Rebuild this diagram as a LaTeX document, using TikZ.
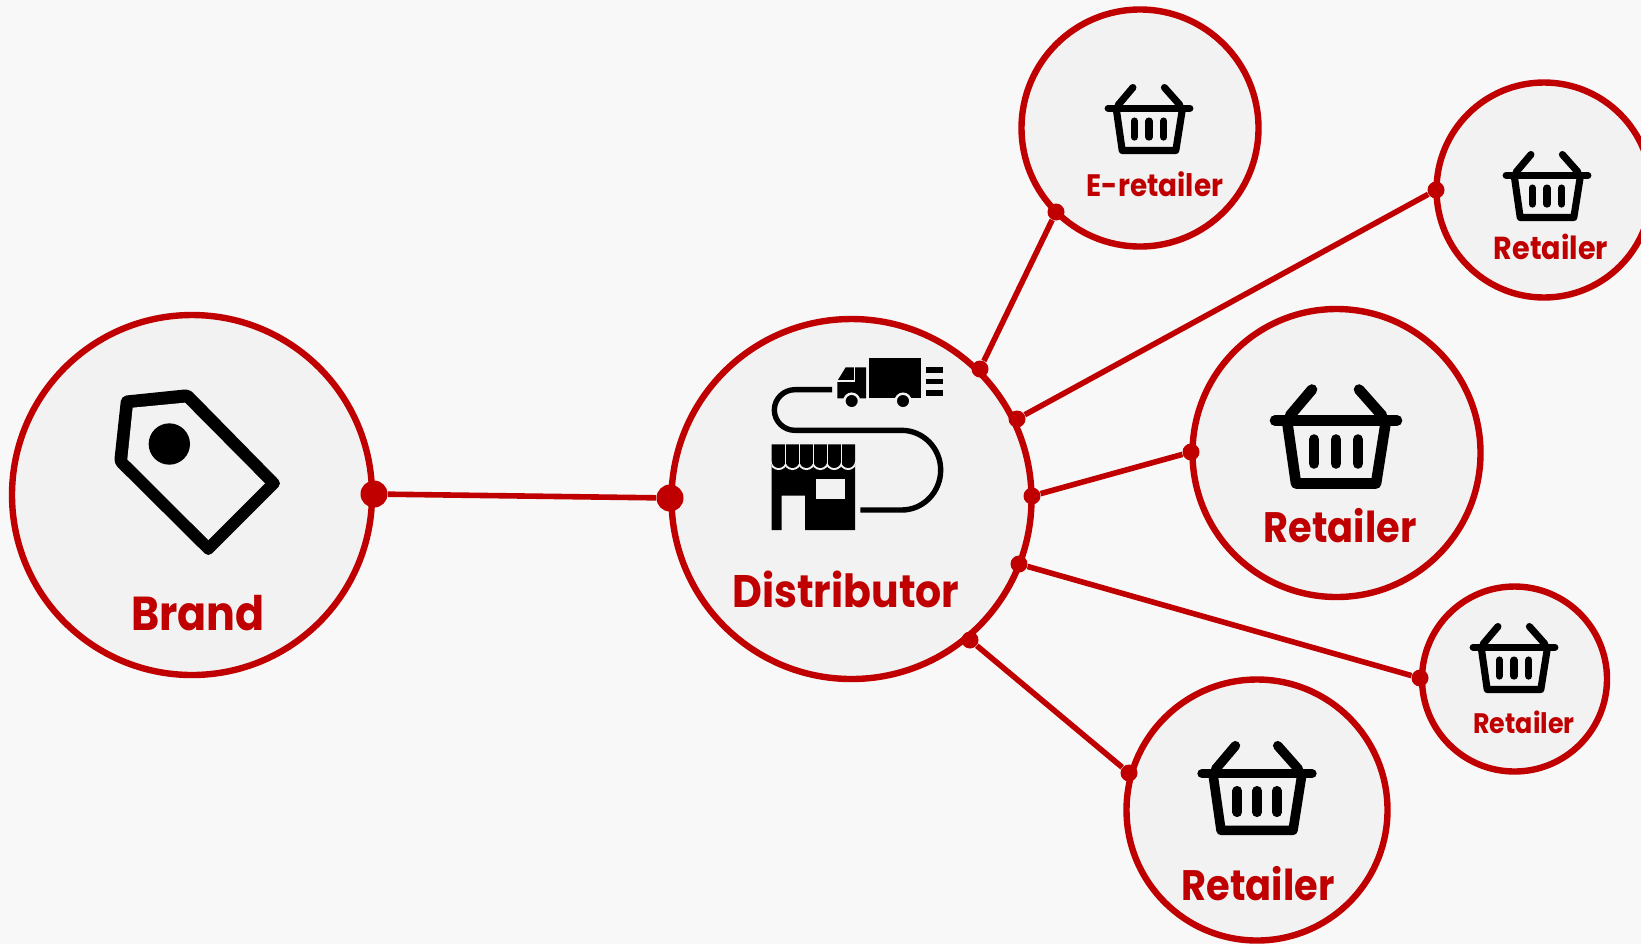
\documentclass[tikz,border=0pt]{standalone}
\usepackage{fontspec}
\setmainfont{Poppins}[FakeStretch=0.90]
\definecolor{brandred}{HTML}{C00000}
\definecolor{discfill}{HTML}{F2F2F2}
\definecolor{pagebg}{HTML}{F8F8F8}
\tikzset{
  disc/.style={circle,draw=brandred,fill=discfill,line width=3.2pt,inner sep=0pt},
  bigdot/.style={circle,fill=brandred,inner sep=0pt,minimum size=13.5pt},
  smalldot/.style={circle,fill=brandred,inner sep=0pt,minimum size=8.5pt},
  link/.style={draw=brandred,line width=2.8pt},
  lbl/.style={text=brandred,anchor=base,inner sep=0pt,font=\bfseries},
}
\newcommand{\basketicon}[3]{%
  \begin{scope}[shift={(#1,#2)},scale=#3,line width=#3*5.3pt,line cap=round,line join=round,draw=black]
    \draw (-61,-16) -- (61,-16);
    \draw (-49,-16) -- (-40,47) -- (40,47) -- (50,-16);
    \draw (-24,-47) -- (-46,-21);
    \draw (23,-47) -- (46,-21);
    \draw (-22,3) -- (-22,27);
    \draw (0,3) -- (0,27);
    \draw (22,3) -- (22,27);
  \end{scope}}
\begin{document}
\begin{tikzpicture}[x=0.5pt,y=-0.5pt]
\clip (0,0) rectangle (1641,944);
\fill[pagebg] (0,0) rectangle (1641,944);
% discs
\node[disc,minimum size=180pt] (brand) at (192,495) {};
\node[disc,minimum size=180pt] (dist) at (851.5,499) {};
\node[disc,minimum size=118.5pt] (eret) at (1140,128) {};
\node[disc,minimum size=107.5pt] (rtop) at (1544,190) {};
\node[disc,minimum size=144pt] (rmid) at (1336.5,453) {};
\node[disc,minimum size=92.5pt] (rsmall) at (1514.5,679) {};
\node[disc,minimum size=130.5pt] (rbot) at (1257,810) {};
% dots
\node[bigdot] (d1) at (374,494) {};
\node[bigdot] (d2) at (670,498) {};
\node[smalldot] (e1) at (980,369) {};
\node[smalldot] (e2) at (1056,212) {};
\node[smalldot] (t1) at (1017,419) {};
\node[smalldot] (t2) at (1436,190) {};
\node[smalldot] (m1) at (1032,496) {};
\node[smalldot] (m2) at (1191,452) {};
\node[smalldot] (s1) at (1019,564) {};
\node[smalldot] (s2) at (1420,678) {};
\node[smalldot] (b1) at (970,640) {};
\node[smalldot] (b2) at (1129,773) {};
% connectors
\draw[link] (d1) -- (d2);
\draw[link] (e1) -- (e2);
\draw[link] (t1) -- (t2);
\draw[link] (m1) -- (m2);
\draw[link] (s1) -- (s2);
\draw[link] (b1) -- (b2);
% baskets
\basketicon{1336}{436.5}{1}
\basketicon{1257}{788}{0.9}
\basketicon{1149}{119}{0.67}
\basketicon{1547}{186}{0.67}
\basketicon{1514}{658}{0.67}
% tag icon
\begin{scope}[shift={(80,360)},scale=1/3]
  \fill[black,rounded corners=2.5pt] (124,108) -- (328,87) -- (606,370) -- (385,591) -- (102,310) -- cycle;
  \fill[discfill] (158,143) -- (315,128) -- (555,370) -- (385,540) -- (142,298) -- cycle;
  \fill[black] (268,252) circle[radius=62];
\end{scope}
% distributor icon
\begin{scope}[shift={(680,320)},scale=1/3]
  % truck
  \fill[black] (567,115) rectangle (722,235);
  \fill[black] (472,183) -- (497,142) -- (558,142) -- (558,235) -- (472,235) -- cycle;
  \draw[discfill,line width=0.7pt] (468,183) -- (524,183) -- (524,138);
  \fill[black] (738,142) rectangle (790,160);
  \fill[black] (738,177) rectangle (790,193);
  \fill[black] (738,211) rectangle (790,228);
  \fill[black,draw=discfill,line width=1.2pt] (515,243) circle[radius=22];
  \fill[black,draw=discfill,line width=1.2pt] (669,243) circle[radius=22];
  % road
  \draw[black,line width=2.7pt] (456,209) -- (345,209) .. controls (311,209) and (283,236) .. (283,270) .. controls (283,304) and (311,331) .. (345,331) -- (665,331) .. controls (730,331) and (782,385) .. (782,450) .. controls (782,516) and (730,570) .. (665,570) -- (541,570);
  % shop
  \fill[black] (275,432) -- (525,432) -- (525,630) -- (375,630) -- (375,527) -- (305,527) -- (305,630) -- (275,630) -- cycle;
  \fill[discfill] (408,476) rectangle (495,536);
  \begin{scope}
    \clip (275,373) rectangle (525,640);
    \foreach \k in {0,...,5} {
      \pgfmathsetmacro{\xa}{275+\k*41.67}
      \pgfmathsetmacro{\xb}{\xa+41.67}
      \draw[discfill,line width=2pt] (\xa,373) -- (\xa,422) .. controls (\xa,435) and (\xa+10,444) .. (\xa+20.8,444) .. controls (\xb-10,444) and (\xb,435) .. (\xb,422) -- (\xb,373);
    }
    \foreach \k in {0,...,5} {
      \pgfmathsetmacro{\xa}{275+\k*41.67}
      \pgfmathsetmacro{\xb}{\xa+41.67}
      \fill[black] (\xa,373) -- (\xa,422) .. controls (\xa,435) and (\xa+10,444) .. (\xa+20.8,444) .. controls (\xb-10,444) and (\xb,435) .. (\xb,422) -- (\xb,373) -- cycle;
    }
    \foreach \k in {1,...,5} {
      \pgfmathsetmacro{\xa}{275+\k*41.67}
      \draw[discfill,line width=0.5pt] (\xa,373) -- (\xa,432);
    }
  \end{scope}
\end{scope}
% labels
\node[lbl,font=\bfseries\fontsize{23.8}{23.8}\selectfont] (tbrand) at (198,630) {Brand};
\node[lbl,font=\bfseries\fontsize{22.8}{22.8}\selectfont] (tdist) at (846,607) {Distributor};
\node[lbl,font=\bfseries\fontsize{21.3}{21.3}\selectfont] (tmid) at (1340,542) {Retailer};
\node[lbl,font=\bfseries\fontsize{21.3}{21.3}\selectfont] (tbot) at (1258,900) {Retailer};
\node[lbl,font=\bfseries\fontsize{15.5}{15.5}\selectfont] (teret) at (1155,196) {E-retailer};
\node[lbl,font=\bfseries\fontsize{15.9}{15.9}\selectfont] (ttop) at (1551,259) {Retailer};
\node[lbl,font=\bfseries\fontsize{14.1}{14.1}\selectfont] (tsmall) at (1524,733) {Retailer};
\end{tikzpicture}
\end{document}
